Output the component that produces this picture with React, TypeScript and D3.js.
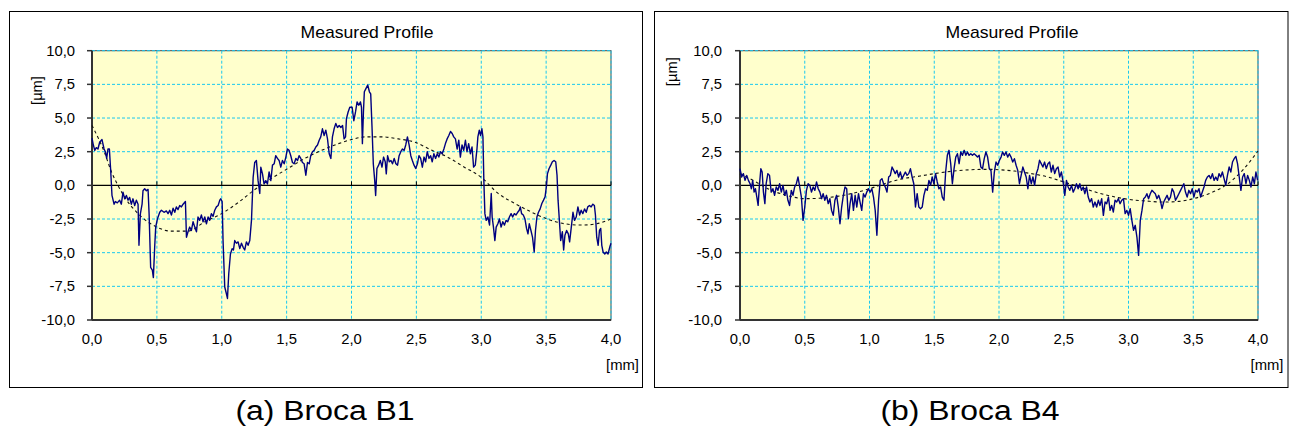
import * as d3 from "d3";

// x in mm, y in µm
const profileB1: [number, number][] = [
  [0.000, 3.5], [0.008, 3.1], [0.021, 2.6], [0.033, 2.8], [0.046, 2.7], [0.059, 3.2], [0.077, 3.4], [0.093, 2.7],
  [0.103, 2.5], [0.113, 2.0], [0.123, 2.7], [0.134, 2.7], [0.144, 1.1], [0.154, -0.75], [0.170, -1.4], [0.180, -1.2],
  [0.195, -1.3], [0.213, -1.1], [0.226, -1.4], [0.239, -0.5], [0.252, -1.0], [0.265, -0.75], [0.278, -1.1], [0.290, -0.9],
  [0.303, -1.4], [0.316, -1.0], [0.329, -1.5], [0.342, -1.1], [0.355, -1.4], [0.362, -4.45], [0.373, -2.1], [0.386, -1.4],
  [0.393, -0.4], [0.406, -0.25], [0.419, -0.4], [0.432, -0.3], [0.440, -2.1], [0.452, -6.1], [0.465, -6.3], [0.473, -6.85],
  [0.483, -4.6], [0.491, -3.1], [0.504, -2.5], [0.522, -2.0], [0.535, -1.85], [0.555, -2.0], [0.573, -1.9], [0.586, -2.1],
  [0.599, -1.85], [0.612, -2.2], [0.625, -1.7], [0.638, -2.0], [0.650, -1.6], [0.663, -1.8], [0.676, -1.5], [0.689, -1.6],
  [0.702, -1.4], [0.720, -1.2], [0.728, -3.85], [0.740, -3.45], [0.753, -3.1], [0.766, -3.35], [0.779, -2.7], [0.792, -3.1],
  [0.805, -3.45], [0.817, -2.35], [0.830, -2.6], [0.843, -2.2], [0.856, -2.7], [0.869, -2.35], [0.882, -2.85], [0.895, -2.35],
  [0.907, -2.6], [0.920, -2.1], [0.933, -2.3], [0.946, -1.85], [0.959, -1.6], [0.972, -1.5], [0.985, -1.1], [0.992, -1.0],
  [1.003, -1.2], [1.010, -4.1], [1.023, -7.55], [1.036, -8.05], [1.044, -8.4], [1.054, -6.55], [1.067, -5.1], [1.080, -4.7],
  [1.090, -4.8], [1.100, -4.1], [1.113, -4.3], [1.126, -4.2], [1.139, -4.7], [1.152, -4.3], [1.165, -4.6], [1.177, -4.8],
  [1.190, -4.2], [1.203, -4.45], [1.216, -4.1], [1.229, -2.6], [1.242, 0.6], [1.254, 1.7], [1.267, 1.85], [1.280, 0.35],
  [1.293, -0.6], [1.301, 1.35], [1.314, 0.85], [1.326, 0.1], [1.339, 0.35], [1.352, 0.1], [1.365, 1.0], [1.378, 0.35],
  [1.391, 1.5], [1.404, 1.6], [1.416, 2.2], [1.429, 2.0], [1.442, 1.85], [1.455, 1.35], [1.468, 1.85], [1.481, 1.6],
  [1.494, 2.1], [1.506, 2.7], [1.519, 2.6], [1.532, 2.2], [1.545, 1.7], [1.558, 1.6], [1.571, 2.0], [1.584, 1.85],
  [1.596, 2.2], [1.609, 2.0], [1.622, 1.7], [1.635, 1.6], [1.648, 0.75], [1.661, 1.7], [1.674, 1.6], [1.686, 2.2],
  [1.699, 2.5], [1.712, 2.6], [1.725, 2.85], [1.738, 3.0], [1.751, 3.35], [1.763, 3.6], [1.776, 4.2], [1.789, 3.7],
  [1.802, 4.1], [1.815, 3.45], [1.828, 2.35], [1.841, 2.0], [1.853, 3.6], [1.866, 4.2], [1.879, 4.6], [1.892, 4.3],
  [1.905, 4.45], [1.918, 4.3], [1.931, 4.45], [1.943, 3.45], [1.954, 3.6], [1.961, 4.95], [1.974, 5.45], [1.987, 5.8],
  [2.005, 5.8], [2.018, 4.8], [2.031, 5.45], [2.043, 6.2], [2.056, 5.95], [2.069, 6.2], [2.077, 5.8], [2.084, 3.1],
  [2.092, 5.45], [2.099, 6.95], [2.112, 7.2], [2.125, 7.45], [2.138, 6.95], [2.148, 6.8], [2.158, 4.35], [2.168, 1.6],
  [2.179, 0.35], [2.186, -0.75], [2.196, 1.25], [2.209, 1.5], [2.222, 1.85], [2.235, 1.35], [2.247, 2.1], [2.260, 1.75],
  [2.268, 0.85], [2.278, 2.2], [2.291, 1.75], [2.304, 1.85], [2.316, 1.6], [2.329, 2.0], [2.342, 1.6], [2.355, 1.5],
  [2.367, 2.2], [2.380, 2.5], [2.393, 2.7], [2.406, 2.6], [2.418, 3.0], [2.431, 3.6], [2.444, 3.0], [2.457, 2.2],
  [2.469, 1.85], [2.482, 1.5], [2.495, 1.25], [2.508, 1.6], [2.520, 2.2], [2.533, 2.0], [2.546, 1.35], [2.559, 2.1],
  [2.571, 1.75], [2.584, 2.5], [2.597, 2.0], [2.610, 2.2], [2.622, 1.75], [2.635, 2.35], [2.648, 2.0], [2.661, 2.35],
  [2.673, 2.1], [2.686, 2.5], [2.699, 2.35], [2.712, 2.7], [2.724, 3.1], [2.737, 3.45], [2.750, 3.7], [2.763, 4.0],
  [2.776, 3.85], [2.788, 3.6], [2.801, 3.45], [2.814, 2.7], [2.827, 3.35], [2.839, 2.1], [2.852, 3.0], [2.865, 2.6],
  [2.878, 3.35], [2.890, 2.5], [2.903, 3.1], [2.916, 2.35], [2.929, 2.85], [2.941, 1.35], [2.954, 1.5], [2.967, 2.7],
  [2.974, 3.6], [2.985, 4.1], [2.995, 3.7], [3.005, 4.2], [3.013, 3.6], [3.020, 0.35], [3.028, -2.1], [3.038, -2.6],
  [3.051, -2.35], [3.064, -2.95], [3.077, -0.6], [3.084, -2.35], [3.094, -3.1], [3.105, -4.1], [3.115, -3.1], [3.128, -2.85],
  [3.140, -2.5], [3.153, -3.1], [3.166, -2.7], [3.179, -2.95], [3.191, -2.6], [3.204, -2.7], [3.217, -2.35], [3.230, -2.1],
  [3.242, -2.35], [3.255, -2.1], [3.268, -2.2], [3.281, -2.0], [3.293, -1.85], [3.301, -1.6], [3.311, -2.1], [3.324, -2.2],
  [3.337, -2.5], [3.349, -3.2], [3.360, -3.6], [3.370, -2.85], [3.383, -3.35], [3.395, -3.85], [3.408, -4.95], [3.418, -3.35],
  [3.429, -2.35], [3.441, -2.0], [3.454, -1.75], [3.467, -1.35], [3.480, -1.1], [3.492, -0.85], [3.503, 0.0], [3.510, 0.85],
  [3.523, 1.25], [3.536, 1.5], [3.548, 1.75], [3.561, 1.85], [3.574, 1.75], [3.584, 0.75], [3.592, -1.1], [3.602, -2.6],
  [3.612, -4.1], [3.625, -3.45], [3.635, -4.8], [3.645, -3.7], [3.658, -3.35], [3.671, -3.6], [3.681, -4.2], [3.694, -3.1],
  [3.707, -2.0], [3.719, -2.6], [3.732, -2.35], [3.745, -1.6], [3.758, -2.2], [3.770, -1.85], [3.783, -2.1], [3.796, -1.75],
  [3.809, -2.0], [3.821, -1.6], [3.834, -1.5], [3.847, -1.6], [3.860, -1.4], [3.872, -1.5], [3.880, -2.2], [3.890, -3.85],
  [3.901, -4.45], [3.911, -3.35], [3.921, -3.2], [3.929, -4.45], [3.939, -4.95], [3.952, -5.1], [3.964, -4.95], [3.977, -5.1],
  [3.985, -4.8], [3.993, -4.5], [4.000, -4.3],
];

const fitB1: [number, number][] = [
  [0.0, 4.45], [0.1, 2.35], [0.15, 1.0], [0.2, 0.0], [0.25, -0.85], [0.355, -2.1], [0.5, -3.1], [0.61, -3.4],
  [0.74, -3.4], [0.87, -2.7], [1.0, -2.1], [1.13, -1.25], [1.25, -0.35], [1.38, 0.5], [1.51, 1.25], [1.64, 2.0],
  [1.77, 2.6], [1.9, 3.1], [2.0, 3.4], [2.11, 3.6], [2.23, 3.6], [2.36, 3.45], [2.49, 3.2], [2.62, 2.6],
  [2.74, 2.1], [2.87, 1.35], [3.0, 0.6], [3.13, -0.6], [3.26, -1.35], [3.39, -2.0], [3.51, -2.5], [3.64, -2.85],
  [3.77, -2.95], [3.89, -2.85], [4.0, -2.5],
];

const profileB4: [number, number][] = [
  [0.000, 1.24], [0.013, 0.62], [0.026, 0.87], [0.039, 0.37], [0.052, 0.74], [0.065, 0.37], [0.078, 0.12], [0.088, -0.25],
  [0.098, 0.37], [0.109, -0.5], [0.119, -0.25], [0.130, -0.87], [0.140, -1.49], [0.150, 0.0], [0.161, 1.24], [0.171, 0.99],
  [0.181, -0.5], [0.192, -1.36], [0.202, 0.12], [0.215, 0.87], [0.228, 0.74], [0.241, -0.5], [0.254, -0.25], [0.267, -0.74],
  [0.280, -0.12], [0.293, -0.37], [0.306, 0.12], [0.319, -0.5], [0.332, 0.0], [0.345, -0.74], [0.358, -0.37], [0.370, -1.11],
  [0.383, -1.49], [0.396, -0.37], [0.409, -0.74], [0.422, -0.12], [0.435, 0.12], [0.448, 0.62], [0.461, -0.12], [0.474, -0.87],
  [0.487, -2.6], [0.500, -1.61], [0.513, -0.37], [0.526, 0.12], [0.539, 0.0], [0.552, -0.5], [0.565, -0.12], [0.578, -0.37],
  [0.591, 0.25], [0.604, -0.25], [0.617, -0.5], [0.630, -0.99], [0.642, -0.62], [0.655, -1.11], [0.668, -0.74], [0.681, -1.36],
  [0.694, -0.99], [0.707, -1.86], [0.720, -2.23], [0.733, -1.11], [0.746, -0.74], [0.759, -1.61], [0.772, -2.85], [0.785, -1.61],
  [0.798, -0.74], [0.811, -0.12], [0.824, -0.25], [0.837, -2.48], [0.850, -1.36], [0.863, -0.62], [0.876, -1.86], [0.889, -0.74],
  [0.902, -1.61], [0.915, -0.62], [0.927, -1.24], [0.940, -1.86], [0.953, -0.62], [0.966, -0.87], [0.979, -0.5], [0.992, -0.25],
  [1.005, -0.5], [1.018, -0.25], [1.031, -0.87], [1.044, -1.86], [1.057, -3.71], [1.070, -1.11], [1.083, 0.37], [1.096, 0.5],
  [1.109, 0.12], [1.122, -0.12], [1.135, -0.5], [1.148, 0.62], [1.161, 0.74], [1.174, 1.36], [1.187, 1.11], [1.199, 0.87],
  [1.212, 1.11], [1.225, 0.62], [1.238, 0.99], [1.251, 0.5], [1.264, 0.74], [1.277, 0.99], [1.290, 0.74], [1.303, 0.87],
  [1.316, 1.24], [1.329, 0.62], [1.342, 0.12], [1.355, -1.61], [1.368, -0.62], [1.381, -1.61], [1.394, -1.73], [1.407, -1.61],
  [1.420, -0.74], [1.433, -0.25], [1.446, -0.37], [1.459, 0.37], [1.472, 0.0], [1.484, 0.62], [1.497, 0.12], [1.510, 0.87],
  [1.523, 0.25], [1.536, -0.25], [1.549, -0.12], [1.562, -0.87], [1.575, -1.11], [1.588, 0.99], [1.601, 2.23], [1.614, 2.6],
  [1.627, 1.61], [1.640, 0.12], [1.653, 1.24], [1.666, 2.1], [1.679, 2.35], [1.692, 1.61], [1.705, 2.48], [1.718, 2.23],
  [1.731, 2.6], [1.744, 2.23], [1.756, 2.48], [1.769, 2.23], [1.782, 2.35], [1.795, 2.23], [1.808, 2.35], [1.821, 2.23],
  [1.834, 2.1], [1.847, 2.23], [1.860, 1.36], [1.873, 1.24], [1.886, 1.98], [1.899, 2.48], [1.912, 2.1], [1.925, 1.24],
  [1.938, 1.11], [1.951, -0.5], [1.964, 0.99], [1.977, 1.73], [1.990, 1.49], [2.003, 1.86], [2.016, 2.1], [2.028, 2.48],
  [2.041, 2.23], [2.054, 2.48], [2.067, 2.1], [2.080, 2.35], [2.093, 2.1], [2.106, 1.73], [2.119, 1.98], [2.132, 1.49],
  [2.145, 1.11], [2.158, 0.12], [2.171, 0.74], [2.184, 1.36], [2.197, 0.99], [2.210, 0.62], [2.223, -0.25], [2.236, 0.74],
  [2.249, 0.12], [2.262, 0.62], [2.275, 0.0], [2.288, 0.87], [2.301, 1.24], [2.313, 1.86], [2.326, 1.61], [2.339, 1.36],
  [2.352, 1.73], [2.365, 1.24], [2.378, 1.61], [2.391, 1.73], [2.404, 0.99], [2.417, 1.49], [2.430, 0.87], [2.443, 1.24],
  [2.456, 1.36], [2.469, 0.62], [2.482, 0.99], [2.495, 0.25], [2.508, -0.74], [2.521, 0.37], [2.534, -0.12], [2.547, -0.37],
  [2.560, 0.0], [2.573, -0.5], [2.585, -0.25], [2.598, 0.12], [2.611, -0.25], [2.624, 0.12], [2.637, -0.37], [2.650, -0.12],
  [2.663, -0.62], [2.676, -0.12], [2.689, -0.87], [2.702, -1.24], [2.715, -0.99], [2.728, -1.61], [2.741, -1.24], [2.754, -1.61],
  [2.767, -1.11], [2.780, -1.49], [2.793, -0.99], [2.806, -2.23], [2.819, -1.24], [2.832, -1.36], [2.845, -0.87], [2.858, -1.86],
  [2.870, -1.49], [2.883, -1.98], [2.896, -1.11], [2.909, -1.24], [2.922, -0.99], [2.935, -1.36], [2.948, -1.11], [2.961, -0.99],
  [2.974, -2.1], [2.987, -1.86], [3.000, -2.23], [3.013, -1.73], [3.026, -2.6], [3.039, -3.34], [3.052, -2.97], [3.065, -3.84],
  [3.078, -5.2], [3.091, -2.6], [3.104, -1.86], [3.117, -0.99], [3.130, -0.87], [3.142, -0.62], [3.155, -0.99], [3.168, -0.62],
  [3.181, -0.37], [3.194, -0.5], [3.207, -0.62], [3.220, -0.99], [3.233, -0.74], [3.246, -1.11], [3.259, -1.73], [3.272, -1.24],
  [3.285, -0.99], [3.298, -0.74], [3.311, -1.11], [3.324, -0.87], [3.337, -0.25], [3.350, -0.5], [3.363, -1.11], [3.376, -0.87],
  [3.389, -0.62], [3.402, -0.37], [3.415, -0.12], [3.427, 0.12], [3.440, -0.5], [3.453, -0.87], [3.466, -0.37], [3.479, -0.62],
  [3.492, -0.25], [3.505, -0.87], [3.518, -0.37], [3.531, -0.5], [3.544, -0.25], [3.557, -0.87], [3.570, -0.5], [3.583, -0.12],
  [3.596, 0.37], [3.609, 0.62], [3.622, 0.74], [3.635, 0.5], [3.648, 0.87], [3.661, 0.37], [3.674, 0.62], [3.687, 0.37],
  [3.699, 0.87], [3.712, 0.62], [3.725, 0.99], [3.738, 0.5], [3.751, 0.0], [3.764, 0.74], [3.777, 1.36], [3.790, 0.99],
  [3.803, 1.73], [3.816, 1.98], [3.829, 2.15], [3.842, 1.61], [3.855, 0.62], [3.868, -0.37], [3.881, 0.62], [3.894, 0.87],
  [3.907, 0.12], [3.920, 0.74], [3.933, 0.37], [3.946, -0.12], [3.959, 0.62], [3.972, 0.12], [3.984, 0.99], [3.997, 0.37],
];

const fitB4: [number, number][] = [
  [0.0, 0.87], [0.124, 0.25], [0.23, -0.32], [0.36, -0.74], [0.5, -0.99], [0.64, -0.94], [0.75, -0.82], [0.88, -0.57],
  [1.0, -0.25], [1.13, 0.17], [1.26, 0.5], [1.39, 0.69], [1.5, 0.87], [1.65, 1.06], [1.78, 1.16], [1.91, 1.19],
  [2.0, 1.16], [2.12, 1.06], [2.25, 0.87], [2.38, 0.62], [2.5, 0.25], [2.64, -0.17], [2.77, -0.57], [2.9, -0.87],
  [3.0, -1.04], [3.13, -1.16], [3.26, -1.24], [3.39, -1.19], [3.5, -0.99], [3.62, -0.62], [3.75, 0.0], [3.88, 1.11],
  [4.0, 2.55],
];

const xTicks = [0, 0.5, 1, 1.5, 2, 2.5, 3, 3.5, 4];
const yTicks = [-10, -7.5, -5, -2.5, 0, 2.5, 5, 7.5, 10];
const chartTitle = "Measured Profile";
const captions = ["(a) Broca B1", "(b) Broca B4"];

const FONT = "'Liberation Sans', Arial, sans-serif";
const fmt = (v: number) => d3.format(".1f")(v).replace(".", ",").replace("−", "-");

type Layout = {
  fx0: number; fx1: number; fy0: number; fy1: number;
  px0: number; px1: number; py0: number; py1: number;
  titleX: number; yLabX: number; yLabY: number; yTickEnd: number;
  xLabEnd: number; capX: number;
};

// text slightly stretched sideways, like the reference rendering
function T({ x, y, s, size, anchor, children, rot }: { x: number; y: number; s: number; size: number; anchor: string; children: any; rot?: boolean }) {
  const tf = rot ? `translate(${x},${y}) rotate(-90) scale(${s},1)` : `translate(${x},${y}) scale(${s},1)`;
  return (
    <text transform={tf} textAnchor={anchor} fontSize={size} fill="#000" dy={rot ? "0.35em" : undefined}>{children}</text>
  );
}

function Panel({ profile, fit, L, caption }: { profile: [number, number][]; fit: [number, number][]; L: Layout; caption: string }) {
  const x = d3.scaleLinear().domain([0, 4]).range([L.px0, L.px1]);
  const y = d3.scaleLinear().domain([-10, 10]).range([L.py1, L.py0]);
  const line = d3.line<[number, number]>().x((d) => x(d[0])).y((d) => y(d[1]));
  const fitLine = d3.line<[number, number]>().x((d) => x(d[0])).y((d) => y(d[1])).curve(d3.curveMonotoneX);
  const grid = "#19c8f0";
  return (
    <g fontFamily={FONT}>
      <rect x={L.fx0} y={L.fy0} width={L.fx1 - L.fx0} height={L.fy1 - L.fy0} fill="#fff" stroke="#000" strokeWidth={1} />
      <T x={L.titleX} y={38} s={1.1} size={16} anchor="middle">{chartTitle}</T>
      <rect x={L.px0} y={L.py0} width={L.px1 - L.px0} height={L.py1 - L.py0} fill="#ffffcc" stroke="#4a4a4a" strokeWidth={1} />
      {yTicks.filter((t) => t !== 0 && t !== -10).map((t) => (
        <line key={"hy" + t} x1={L.px0} x2={L.px1} y1={y(t)} y2={y(t)} stroke={grid} strokeWidth={1} strokeDasharray="3,2" />
      ))}
      {xTicks.filter((t) => t !== 0).map((t) => (
        <line key={"vx" + t} x1={x(t)} x2={x(t)} y1={L.py0} y2={L.py1} stroke={grid} strokeWidth={1} strokeDasharray="3,2" />
      ))}
      <line x1={L.px0} x2={L.px1} y1={y(0)} y2={y(0)} stroke="#000" strokeWidth={1.2} />
      {xTicks.map((t) => (
        <line key={"tx" + t} x1={x(t)} x2={x(t)} y1={y(0) - 4} y2={y(0)} stroke="#000" strokeWidth={1} />
      ))}
      <line x1={L.px0} x2={L.px0} y1={L.py0} y2={L.py1} stroke="#333" strokeWidth={2} />
      <line x1={L.px0} x2={L.px1} y1={L.py1} y2={L.py1} stroke="#333" strokeWidth={2} />
      {yTicks.map((t) => (
        <line key={"ty" + t} x1={L.px0 - 5} x2={L.px0} y1={y(t)} y2={y(t)} stroke="#333" strokeWidth={1.5} />
      ))}
      <path d={fitLine(fit) ?? ""} fill="none" stroke="#111" strokeWidth={1.1} strokeDasharray="3,3" />
      <path d={line(profile) ?? ""} fill="none" stroke="#000080" strokeWidth={1.4} strokeLinejoin="round" />
      {yTicks.map((t) => (
        <T key={"ly" + t} x={L.yTickEnd} y={y(t) + 5} s={1.06} size={14} anchor="end">{fmt(t)}</T>
      ))}
      {xTicks.map((t) => (
        <T key={"lx" + t} x={x(t)} y={344} s={1.06} size={14} anchor="middle">{fmt(t)}</T>
      ))}
      <T x={L.yLabX} y={L.yLabY} s={1.05} size={14} anchor="middle" rot>[µm]</T>
      <T x={L.xLabEnd} y={370} s={1.06} size={14} anchor="end">[mm]</T>
      <T x={L.capX} y={420} s={1.14} size={28} anchor="middle">{caption}</T>
    </g>
  );
}

const left: Layout = {
  fx0: 9.5, fx1: 642.5, fy0: 11.5, fy1: 387.5,
  px0: 92, px1: 611, py0: 50.7, py1: 320,
  titleX: 367, yLabX: 37, yLabY: 90.5, yTickEnd: 75, xLabEnd: 639, capX: 325,
};
const right: Layout = {
  fx0: 654.5, fx1: 1288, fy0: 11.5, fy1: 387.5,
  px0: 740, px1: 1258, py0: 50.7, py1: 320,
  titleX: 1012, yLabX: 672, yLabY: 71.7, yTickEnd: 722, xLabEnd: 1283.5, capX: 970,
};

export default function App() {
  return (
    <div style={{ position: "absolute", left: 0, top: 0 }}>
      <svg width={1290} height={430} style={{ display: "block", background: "#fff" }}>
        <Panel profile={profileB1} fit={fitB1} L={left} caption={captions[0]} />
        <Panel profile={profileB4} fit={fitB4} L={right} caption={captions[1]} />
      </svg>
    </div>
  );
}
